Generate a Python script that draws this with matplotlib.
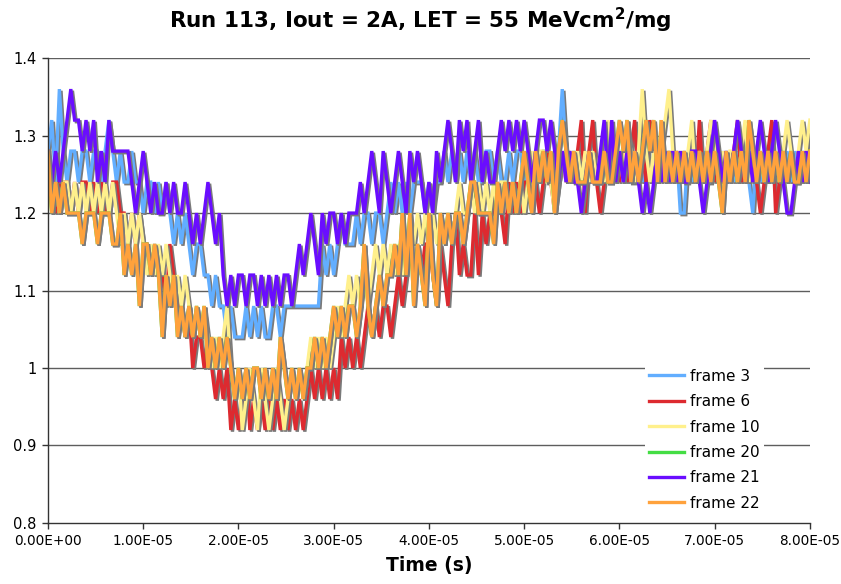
import numpy as np
import matplotlib
matplotlib.use("Agg")
import matplotlib.pyplot as plt
import matplotlib.patheffects as pe

# Quantised output levels (V)
LEVELS = [0.92, 0.96, 1.00, 1.04, 1.08, 1.12, 1.16, 1.20, 1.24, 1.28, 1.32, 1.36]
DT = 0.4e-6  # sample spacing (s)

# level codes (hex digit -> index into LEVELS), one code per sample
frame3_codes = [
    "9a8b989989", "989989a989", "8898878878", "7876767656", "6554544343",
    "3343434334", "4344444444", "4465656766", "6767767767", "8787878887",
    "8788989898", "9898899898", "8989989898", "99899b9898", "8989889898",
    "9898898989", "8989897798", "9898898989", "8989879898", "98989898989"]
frame6_codes = [
    "8878887878", "8787877887", "7676766565", "5465443423", "3232121201",
    "0120101010", "1010101012", "1212121323", "2323434344", "3454565656",
    "6546546756", "5575767787", "6878788787", "8987898989", "a79a878989",
    "8989a898a9", "8989898989", "8a89a89898", "9a89898789", "a7898989898"]
frame10_codes = [
    "8787887878", "7878787876", "7676765656", "5654545434", "3432323421",
    "2012102101", "2101212123", "2323234345", "4545456565", "6565676767",
    "6767676787", "7878787878", "8787878989", "9887898989", "8989898a89",
    "98a989b989", "89ab98989a", "8989a98989", "989a898989", "8989a989a9a"]
frame21_codes = [
    "98989abaa9", "a9a898a999", "9987898787", "7878778767", "6787675454",
    "5545545454", "5455456567", "6576776767", "7787898798", "7898798987",
    "87989a98a9", "a89a89889a", "9a9a9a989a", "a9a9898988", "789889a8a8",
    "9898987878", "9898989889", "98789a9898", "9a98989a98", "9a987789898"]
frame22_codes = [
    "9787877776", "7776777667", "5656466565", "3545343434", "3423232321",
    "2121221212", "1321212122", "3232343434", "4346434545", "5657574654",
    "7547676776", "7887777687", "8787898798", "98979a9898", "8898889889",
    "a9a8989a9a", "8a89898989", "8989898798", "9898a98989", "89898988989"]
frame20_codes = list(frame22_codes)  # hidden beneath frames 21/22

series_names = ["frame 3", "frame 6", "frame 10", "frame 20", "frame 21", "frame 22"]
series_codes = [frame3_codes, frame6_codes, frame10_codes, frame20_codes,
                frame21_codes, frame22_codes]
series_colors = ["#62AEFF", "#DD2A30", "#FFF08C", "#44DD44", "#6A0DFF", "#FFA23C"]

x_ticks = [0, 1e-5, 2e-5, 3e-5, 4e-5, 5e-5, 6e-5, 7e-5, 8e-5]
x_tick_labels = ["0.00E+00", "1.00E-05", "2.00E-05", "3.00E-05", "4.00E-05",
                 "5.00E-05", "6.00E-05", "7.00E-05", "8.00E-05"]
y_ticks = [0.8, 0.9, 1.0, 1.1, 1.2, 1.3, 1.4]
y_tick_labels = ["0.8", "0.9", "1", "1.1", "1.2", "1.3", "1.4"]


def decode(chunks):
    s = "".join(chunks)
    return [LEVELS[int(c, 16)] for c in s]


fig = plt.figure(figsize=(8.41, 5.84), dpi=100)
ax = fig.add_axes([0.057, 0.1045, 0.906, 0.796])

for yv in y_ticks[1:]:
    ax.axhline(yv, color="#5e5e5e", lw=1.0, zorder=0)

for name, codes, col in zip(series_names, series_codes, series_colors):
    vals = decode(codes)
    t = np.arange(len(vals)) * DT
    ax.plot(t, vals, color=col, lw=2.4, label=name, solid_joinstyle="miter",
            path_effects=[pe.SimpleLineShadow(offset=(1.2, -1.2), shadow_color="#7a7a7a", alpha=1.0),
                          pe.Normal()], zorder=2)

ax.set_xlim(0, 8e-5)
ax.set_ylim(0.8, 1.4)
ax.set_xticks(x_ticks)
ax.set_xticklabels(x_tick_labels, fontsize=9.8)
ax.set_yticks(y_ticks)
ax.set_yticklabels(y_tick_labels, fontsize=10.5)
ax.tick_params(axis="both", direction="out", length=4, width=1, color="#333333", pad=4)
for s in ["top", "right"]:
    ax.spines[s].set_visible(False)
for s in ["left", "bottom"]:
    ax.spines[s].set_color("#333333")
    ax.spines[s].set_linewidth(1.0)

ax.set_xlabel("Time (s)", fontsize=13.5, fontweight="bold", labelpad=6)
fig.suptitle("Run 113, Iout = 2A, LET = 55 MeVcm$^{\\mathbf{2}}$/mg", fontsize=15.5,
             fontweight="bold", y=0.99)

leg = ax.legend(loc="lower left", bbox_to_anchor=(0.773, 0.0), fontsize=11,
                frameon=True, fancybox=False, edgecolor="none", facecolor="white",
                framealpha=1.0, handlelength=2.3, handletextpad=0.35,
                labelspacing=0.68, borderpad=0.3)
for h in leg.get_lines():
    h.set_linewidth(2.4)
    h.set_path_effects([])
leg.set_zorder(5)

fig.savefig("out.png", dpi=100)
